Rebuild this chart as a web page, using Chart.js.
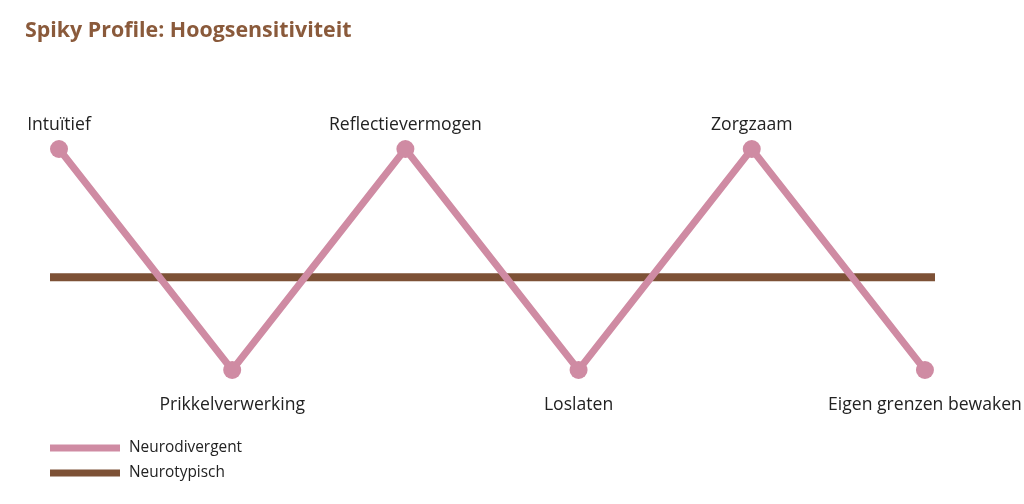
<!DOCTYPE html>
<html><head><meta charset="utf-8">
<script src="https://cdn.jsdelivr.net/npm/chart.js@4/dist/chart.umd.min.js"></script>
<style>html,body{margin:0;padding:0;background:#fff;}#wrap{width:1024px;height:504px;position:relative;}</style>
</head><body><div id="wrap"><canvas id="c" width="1024" height="504"></canvas></div>
<script>
const title = "Spiky Profile: Hoogsensitiviteit";
const categories = ["Intuïtief","Prikkelverwerking","Reflectievermogen","Loslaten","Zorgzaam","Eigen grenzen bewaken"];
const neurodivergent = [100,0,100,0,100,0];
const neurotypischX = [-0.052, 5.058];
const neurotypisch = [42,42];
const seriesNames = ["Neurodivergent","Neurotypisch"];
const colors = ["#cf8ba3","#7d5136"];
const FONT = "'Open Sans', sans-serif";

const overlay = {
  id:'overlay',
  afterDraw(chart){
    const ctx = chart.ctx;
    ctx.save();
    // title
    ctx.fillStyle = "#8a5a3b";
    ctx.font = "bold 21.4px " + FONT;
    ctx.textAlign = "left"; ctx.textBaseline = "middle";
    ctx.fillText(title, 25, 31);
    // point labels
    const meta = chart.getDatasetMeta(0);
    ctx.font = "17.6px " + FONT;
    ctx.fillStyle = "#222";
    ctx.textAlign = "center";
    meta.data.forEach((p,i)=>{
      const up = neurodivergent[i] >= 50;
      ctx.fillText(categories[i], p.x, up ? p.y - 24 : p.y + 35);
    });
    // legend
    ctx.font = "15.4px " + FONT;
    ctx.textAlign = "left";
    seriesNames.forEach((n,i)=>{
      const y = 448 + i*25;
      ctx.fillStyle = colors[i];
      ctx.fillRect(50, y-3.5, 70, 7);
      ctx.fillStyle = "#222";
      ctx.fillText(n, 129, y);
    });
    ctx.restore();
  }
};

new Chart(document.getElementById('c'), {
  type:'line',
  data:{datasets:[
    {label:seriesNames[0], data:neurodivergent.map((v,i)=>({x:i,y:v})), borderColor:colors[0], backgroundColor:colors[0], borderWidth:7, pointRadius:9, pointHoverRadius:9, pointBackgroundColor:colors[0], pointBorderWidth:0, clip:false, order:0},
    {label:seriesNames[1], data:neurotypisch.map((v,i)=>({x:neurotypischX[i],y:v})), borderColor:colors[1], backgroundColor:colors[1], borderWidth:8, pointRadius:0, borderCapStyle:'butt', clip:false, order:1}
  ]},
  options:{
    responsive:false, animation:false,
    layout:{padding:{left:50,right:89,top:149,bottom:134}},
    plugins:{legend:{display:false},title:{display:false},tooltip:{enabled:false}},
    scales:{
      x:{type:'linear', min:neurotypischX[0], max:neurotypischX[1], display:false},
      y:{min:0,max:100,display:false}
    }
  },
  plugins:[overlay]
});
</script></body></html>
